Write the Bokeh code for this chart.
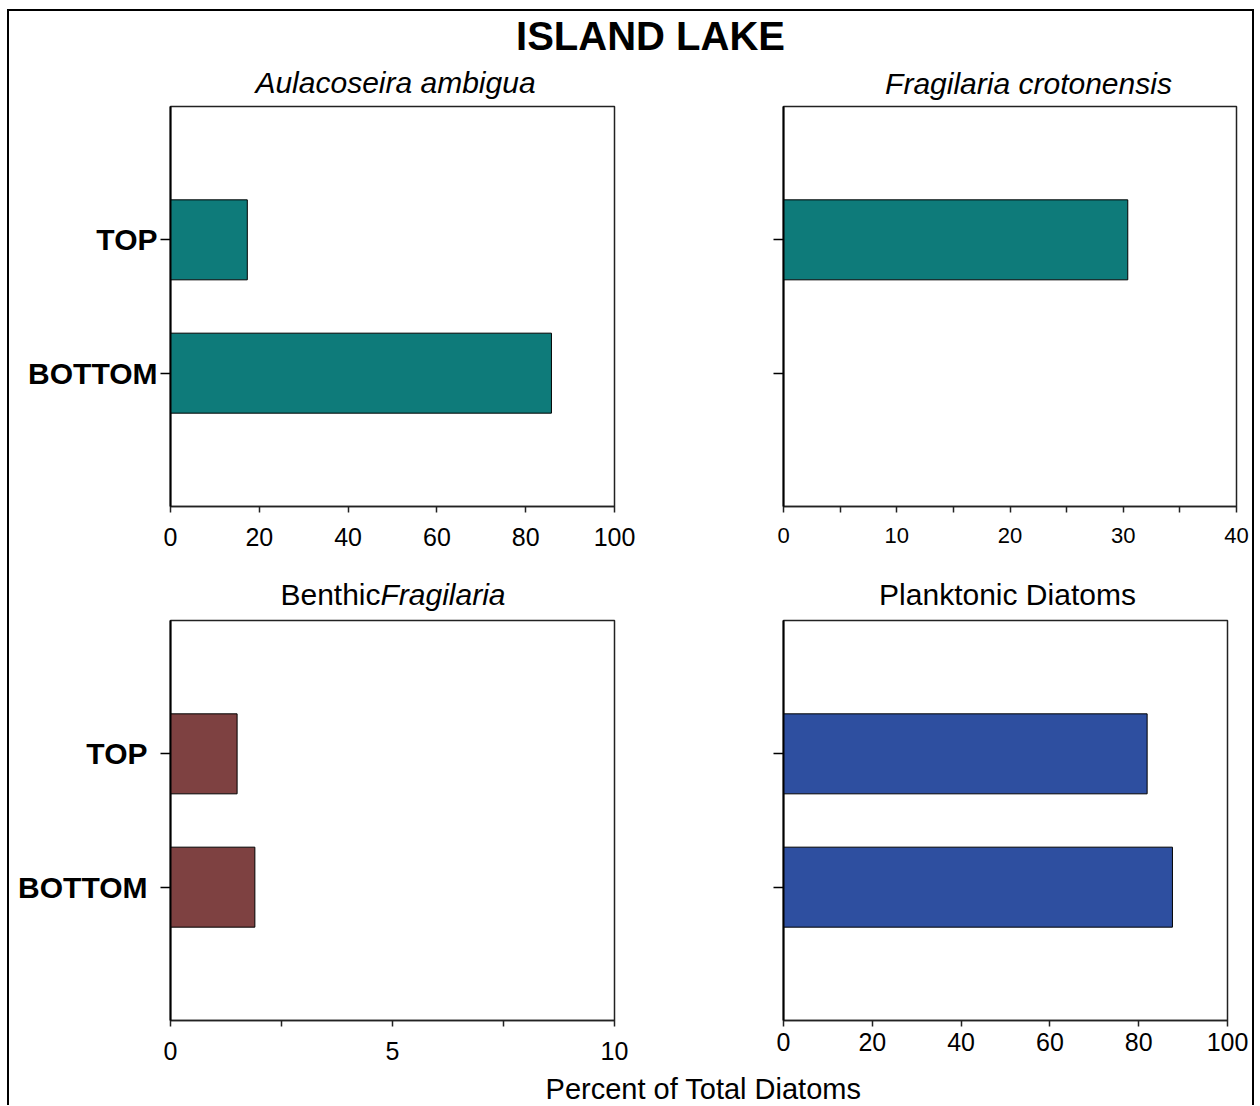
from bokeh.plotting import figure
from bokeh.layouts import column, row
from bokeh.models import FactorRange, Range1d, FixedTicker, Label
from bokeh.embed import file_html
from bokeh.resources import INLINE

FONT = "Liberation Sans"

# ---- data ----
categories = ["BOTTOM", "TOP"]
aulacoseira_ambigua = [85.8, 17.3]          # BOTTOM, TOP
fragilaria_crotonensis = [0.0, 30.4]
benthic_fragilaria = [1.9, 1.5]
planktonic_diatoms = [87.6, 81.9]

ticks_100 = [0, 20, 40, 60, 80, 100]
ticks_40 = [0, 10, 20, 30, 40]
minor_40 = [5, 15, 25, 35]
ticks_10 = [0, 5, 10]
minor_10 = [2.5, 7.5]

main_title = "ISLAND LAKE"
panel_titles = ["Aulacoseira ambigua", "Fragilaria crotonensis",
                ("Benthic", "Fragilaria"), "Planktonic Diatoms"]
x_label = "Percent of Total Diatoms"

TEAL = "#0e7b7a"
BROWN = "#7e4141"
BLUE = "#2e4fa0"

FRAME_H = 400
FULL_W = 1243


def panel(values, color, xmax, ticks, minor, bl, br, bt, bb, frame_w,
          show_labels, label_standoff, tick_font, x_standoff):
    p = figure(width=bl + frame_w + br, height=bt + FRAME_H + bb,
               y_range=FactorRange(factors=categories, range_padding=0.5,
                                   range_padding_units="absolute"),
               x_range=Range1d(0, xmax),
               output_backend="svg", toolbar_location=None,
               min_border_left=bl, min_border_right=br,
               min_border_top=bt, min_border_bottom=bb)
    p.hbar(y=categories, left=0, right=values, height=0.6,
           fill_color=color, line_color="black", line_width=1)
    p.xgrid.visible = False
    p.ygrid.visible = False
    p.outline_line_color = "#222222"
    p.outline_line_width = 1.5
    p.background_fill_color = "white"
    p.border_fill_color = "white"

    xa = p.xaxis[0]
    xa.ticker = FixedTicker(ticks=ticks, minor_ticks=minor)
    xa.major_tick_out = 6
    xa.major_tick_in = 0
    xa.minor_tick_out = 6
    xa.minor_tick_in = 0
    xa.axis_line_width = 1.5
    xa.axis_line_color = "#222222"
    xa.major_tick_line_color = "#222222"
    xa.minor_tick_line_color = "#222222"
    xa.major_tick_line_width = 1.5
    xa.minor_tick_line_width = 1.5
    xa.major_label_text_font = FONT
    xa.major_label_text_font_size = tick_font
    xa.major_label_text_color = "black"
    xa.major_label_standoff = x_standoff

    ya = p.yaxis[0]
    ya.major_tick_out = 10
    ya.major_tick_in = 0
    ya.axis_line_width = 2
    ya.axis_line_color = "black"
    ya.major_tick_line_width = 1.5
    ya.major_label_text_font = FONT
    ya.major_label_text_font_size = "30px"
    ya.major_label_text_font_style = "bold"
    ya.major_label_text_color = "black" if show_labels else None
    ya.major_label_standoff = label_standoff
    return p


# top row (frames at y 106..506)
p1 = panel(aulacoseira_ambigua, TEAL, 100, ticks_100, [], 161, 86, 6, 54, 444,
           True, 3, "25px", 15)
p2 = panel(fragilaria_crotonensis, TEAL, 40, ticks_40, minor_40, 83, 16, 6, 54, 453,
           False, 3, "22px", 15)
# bottom row (frames at y 620..1020)
p3 = panel(benthic_fragilaria, BROWN, 10, ticks_10, minor_10, 161, 86, 6, 50, 444,
           True, 13, "25px", 15)
p4 = panel(planktonic_diatoms, BLUE, 100, ticks_100, [], 83, 25, 6, 50, 444,
           False, 3, "25px", 6)


def text_fig(w, h):
    f = figure(width=w, height=h, x_range=Range1d(0, w), y_range=Range1d(0, h),
               output_backend="svg", toolbar_location=None,
               x_axis_location=None, y_axis_location=None, min_border=0)
    f.xgrid.visible = False
    f.ygrid.visible = False
    f.outline_line_color = None
    return f


def put(f, x, y, text, size, style, align="center"):
    f.add_layout(Label(x=x, y=y, text=text, text_align=align,
                       text_baseline="middle", text_font=FONT,
                       text_font_size=size, text_font_style=style,
                       text_color="black"))


header = text_fig(FULL_W, 89)
put(header, 641, 65, main_title, "40px", "bold")
put(header, 386, 18, panel_titles[0], "30px", "italic")
put(header, 1019, 17, panel_titles[1], "30px", "italic")

mid = text_fig(FULL_W, 54)
put(mid, 371, 20, panel_titles[2][0], "30px", "normal", align="right")
put(mid, 371, 20, panel_titles[2][1], "30px", "italic", align="left")
put(mid, 998, 20, panel_titles[3], "30px", "normal")

footer = text_fig(FULL_W, 35)
put(footer, 694, 17, x_label, "29px", "normal")

layout = column(header, row(p1, p2), mid, row(p3, p4), footer,
                margin=(9, 0, 0, 7),
                styles={"border-left": "2px solid black",
                        "border-top": "2px solid black",
                        "border-right": "2px solid black"})

open("out.html", "w").write(file_html(layout, INLINE))
